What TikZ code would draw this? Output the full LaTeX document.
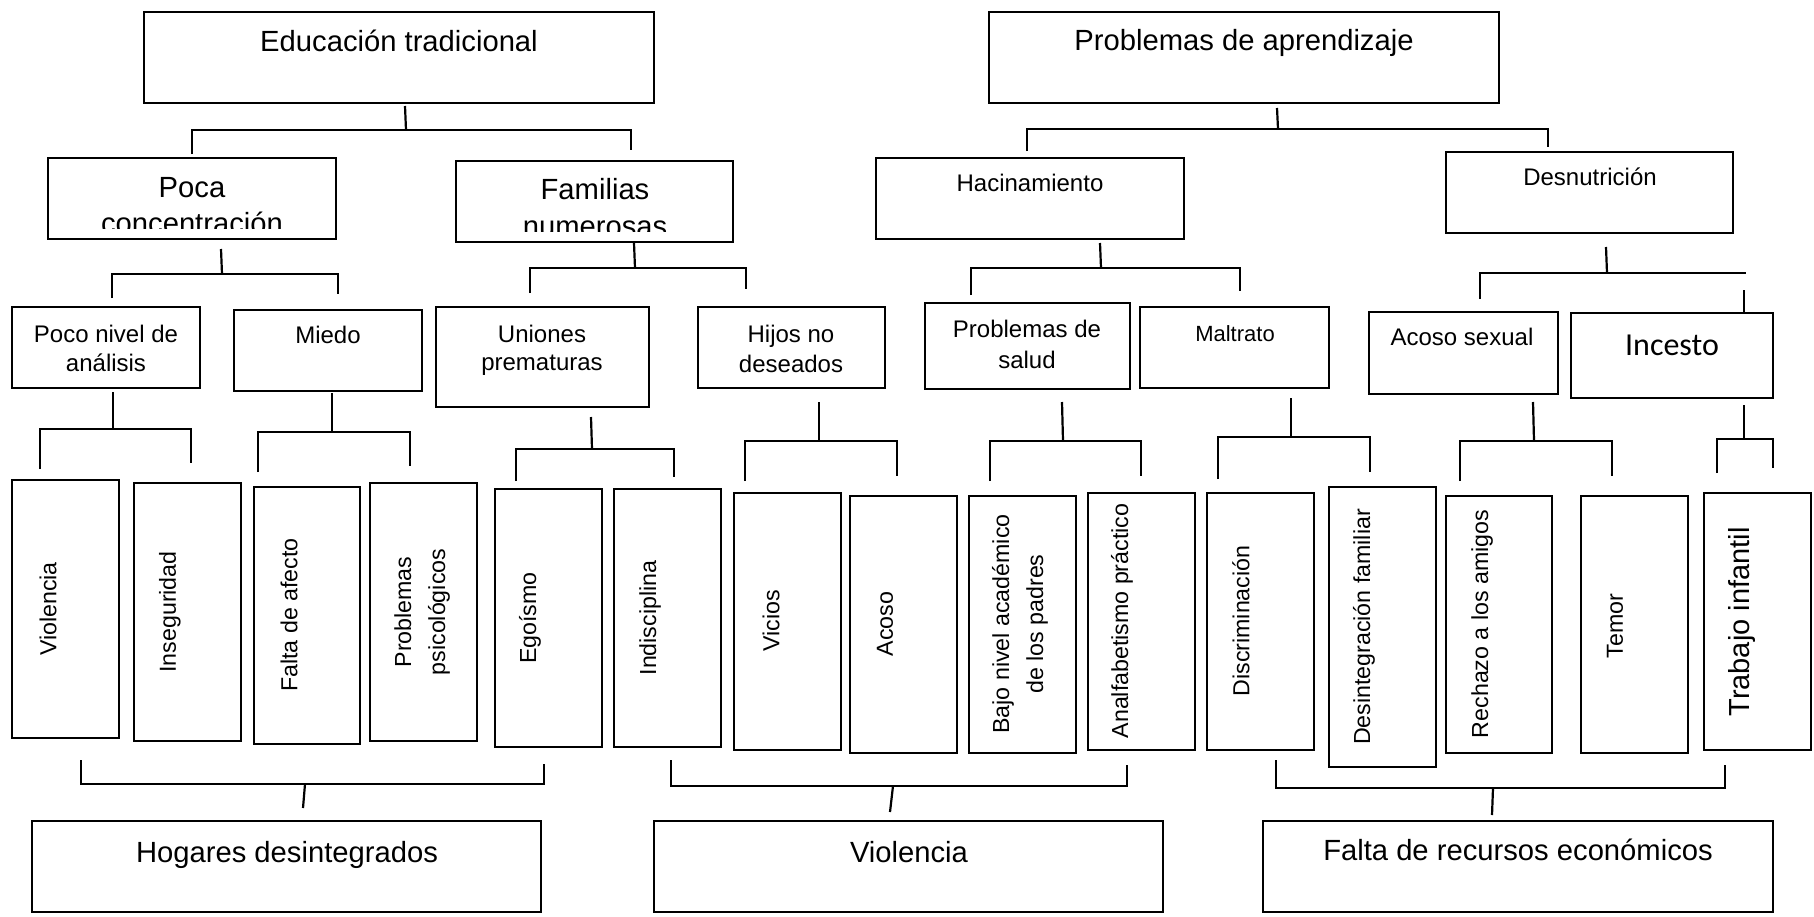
\documentclass[tikz,border=0pt]{standalone}
\usepackage{fontspec}
\setmainfont{Liberation Sans}
\newfontfamily\calib{Carlito}
\usetikzlibrary{fit}
\tikzset{
 box/.style={draw, line width=1.1pt, inner sep=0pt, rectangle},
 conn/.style={draw, line width=1.1pt, line join=miter},
 big/.style={font=\fontsize{14.6}{17.5}\selectfont, inner sep=0pt, anchor=base},
 mid/.style={font=\fontsize{12}{15}\selectfont, inner sep=0pt, anchor=base},
 sml/.style={font=\fontsize{11}{14}\selectfont, inner sep=0pt, anchor=base},
 vt/.style={font=\fontsize{11.6}{17}\selectfont, inner sep=0pt, rotate=90, anchor=center, align=center},
}
\newcommand\bx[5]{\node[box, fit={(#2,#3) (#4,#5)}] (#1) {};}
\newcommand\brk[8]{\draw[conn] (#1,#2) -- (#3,#4); \draw[conn] (#5,#7) -- (#5,#4) -- (#6,#4) -- (#6,#8);}
\begin{document}
\begin{tikzpicture}[x=0.5pt,y=-0.5pt]
\useasboundingbox (0,0) rectangle (1814,916);
% ---- top level
\bx{et}{144}{12}{654}{103}
\node[big] (et-t) at (399,51) {Educación tradicional};
\bx{pa}{989}{12}{1499}{103}
\node[big] (pa-t) at (1244,50) {Problemas de aprendizaje};
\brk{405}{106}{406}{130}{192}{631}{154}{150}
\brk{1277}{108}{1278}{129}{1027}{1548}{151}{147}
% ---- second level
\bx{pc}{48}{158}{336}{239}
\begin{scope}
\clip (48,158) rectangle (336,228);
\node[big] (pc-t1) at (192,197) {Poca};
\node[big] (pc-t2) at (192,233) {concentración};
\end{scope}
\bx{fn}{456}{161}{733}{242}
\begin{scope}
\clip (456,161) rectangle (733,231);
\node[big] (fn-t1) at (595,199) {Familias};
\node[big] (fn-t2) at (595,236) {numerosas};
\end{scope}
\bx{ha}{876}{158}{1184}{239}
\node[mid] (ha-t) at (1030,191) {Hacinamiento};
\bx{de}{1446}{152}{1733}{233}
\node[mid] (de-t) at (1590,185) {Desnutrición};
\brk{221}{249}{222}{274}{112}{338}{298}{294}
\brk{634}{243}{635}{268}{530}{746}{293}{289}
\brk{1100}{243}{1101}{268}{971}{1240}{295}{291}
\draw[conn] (1606,247) -- (1607,273);
\draw[conn] (1480,299) -- (1480,273) -- (1746,273);
\draw[conn] (1744,290) -- (1744,312);
% ---- third level
\bx{pn}{12}{307}{200}{388}
\node[mid] (pn-t1) at (106,342) {Poco nivel de};
\node[mid] (pn-t2) at (106,371) {análisis};
\bx{mi}{234}{310}{422}{391}
\node[mid] (mi-t) at (328,343) {Miedo};
\bx{up}{436}{307}{649}{407}
\node[mid] (up-t1) at (542,342) {Uniones};
\node[mid] (up-t2) at (542,370) {prematuras};
\bx{hn}{698}{307}{885}{388}
\node[mid] (hn-t1) at (791,342) {Hijos no};
\node[mid] (hn-t2) at (791,372) {deseados};
\bx{ps}{925}{303}{1130}{389}
\node[mid] (ps-t1) at (1027,337) {Problemas de};
\node[mid] (ps-t2) at (1027,368) {salud};
\bx{ma}{1140}{307}{1329}{388}
\node[sml] (ma-t) at (1235,341) {Maltrato};
\bx{as}{1369}{312}{1558}{394}
\node[mid] (as-t) at (1462,345) {Acoso sexual};
\bx{in}{1571}{313}{1773}{398}
\node[inner sep=0pt, anchor=base, font=\calib\fontsize{16}{19}\selectfont] (in-t) at (1672,355) {Incesto};
\brk{113}{392}{113}{429}{40}{191}{469}{463}
\brk{332}{393}{332}{432}{258}{410}{472}{466}
\brk{591}{417}{592}{449}{516}{674}{481}{477}
\brk{819}{402}{819}{441}{745}{897}{481}{476}
\brk{1062}{402}{1063}{441}{990}{1141}{481}{476}
\brk{1291}{398}{1291}{437}{1218}{1370}{479}{472}
\brk{1533}{402}{1534}{441}{1460}{1612}{481}{476}
\brk{1744}{405}{1744}{439}{1717}{1773}{473}{468}
% ---- fourth level
\bx{v1}{12}{480}{119}{738}
\node[vt] (v1-t) at (48,609) {Violencia};
\bx{is}{134}{483}{241}{741}
\node[vt] (is-t) at (170,612) {Inseguridad};
\bx{fa}{254}{487}{360}{744}
\node[vt] (fa-t) at (289,615) {Falta de afecto};
\bx{pp}{370}{483}{477}{741}
\node[vt] (pp-t) at (422,612) {Problemas\\psicológicos};
\bx{eg}{495}{489}{602}{747}
\node[vt] (eg-t) at (530,618) {Egoísmo};
\bx{id}{614}{489}{721}{747}
\node[vt] (id-t) at (650,618) {Indisciplina};
\bx{vi}{734}{493}{841}{750}
\node[vt] (vi-t) at (771,621) {Vicios};
\bx{ac}{850}{496}{957}{753}
\node[vt] (ac-t) at (885,624) {Acoso};
\bx{bn}{969}{496}{1076}{753}
\node[vt] (bn-t) at (1020,624) {Bajo nivel académico\\de los padres};
\bx{an}{1088}{493}{1195}{750}
\node[vt] (an-t) at (1122,621) {Analfabetismo práctico};
\bx{di}{1207}{493}{1314}{750}
\node[vt] (di-t) at (1241,621) {Discriminación};
\bx{df}{1329}{487}{1436}{767}
\node[vt] (df-t) at (1364,627) {Desintegración familiar};
\bx{ra}{1446}{496}{1552}{753}
\node[vt] (ra-t) at (1482,624) {Rechazo a los amigos};
\bx{te}{1581}{496}{1688}{753}
\node[vt] (te-t) at (1615,626) {Temor};
\bx{ti}{1704}{493}{1811}{750}
\node[vt, font=\fontsize{14.5}{17}\selectfont] (ti-t) at (1742,622) {Trabajo infantil};
% ---- bottom brackets
\brk{303}{808}{305}{784}{81}{544}{760}{764}
\brk{890}{812}{893}{786}{671}{1127}{760}{765}
\brk{1492}{815}{1493}{788}{1276}{1725}{760}{765}
% ---- bottom boxes
\bx{hd}{32}{821}{541}{912}
\node[big] (hd-t) at (287,862) {Hogares desintegrados};
\bx{vb}{654}{821}{1163}{912}
\node[big] (vb-t) at (909,862) {Violencia};
\bx{fr}{1263}{821}{1773}{912}
\node[big] (fr-t) at (1518,860) {Falta de recursos económicos};
\end{tikzpicture}
\end{document}
